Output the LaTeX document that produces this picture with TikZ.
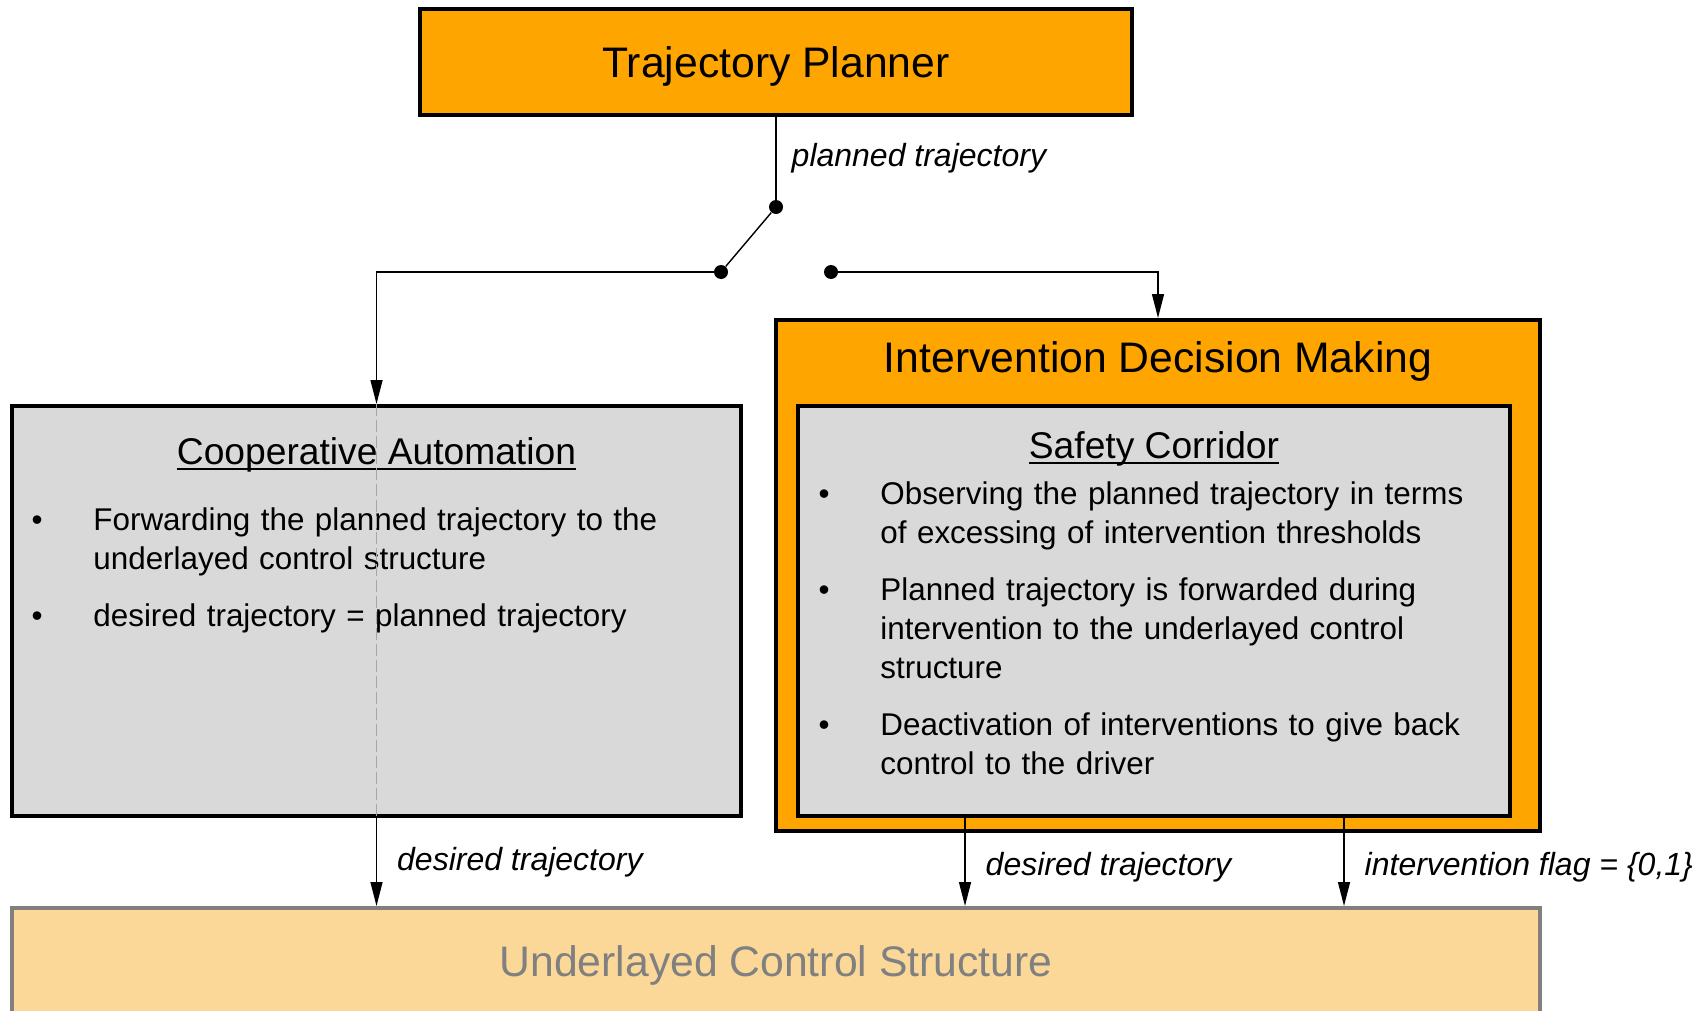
\documentclass[tikz,border=0pt]{standalone}
\usepackage{fontspec}
\setmainfont{Liberation Sans}
\usetikzlibrary{arrows.meta}

\newcommand{\titleline}[1]{\setbox0\hbox{#1}\rlap{\rule[-2.8pt]{\wd0}{0.7pt}}\box0}

\definecolor{plannerorange}{HTML}{FFA500}
\definecolor{boxgray}{HTML}{D9D9D9}
\definecolor{ucsfill}{HTML}{FBD898}
\definecolor{ucsgray}{HTML}{808080}
\definecolor{passgray}{HTML}{A6A6A6}

\begin{document}
\begin{tikzpicture}[x=0.5pt,y=-0.5pt,
    block/.style={draw=black, line width=2pt, minimum width=356pt, minimum height=53pt,
      text height=15.9pt, text depth=0pt, font=\fontsize{21.35}{25}\selectfont},
    graybox/.style={draw=black, line width=2pt, fill=boxgray, minimum height=205pt},
    title/.style={anchor=base, inner sep=0pt, font=\fontsize{21.35}{25}\selectfont},
    subtitle/.style={anchor=base, inner sep=0pt, font=\fontsize{18.6}{22}\selectfont},
    dotitem/.style={anchor=base, inner sep=0pt, font=\fontsize{15.7}{19.5}\selectfont},
    item/.style={anchor=base west, inner sep=0pt, text width=330pt, align=left,
      font=\fontsize{15.7}{19.5}\selectfont},
    lbl/.style={inner sep=0pt, font=\fontsize{16}{19}\selectfont\itshape},
    dot/.style={circle, fill=black, inner sep=0pt, minimum size=7pt},
    conn/.style={draw=black, line width=0.7pt},
    arr/.style={conn, -{Triangle[length=12pt,width=6pt]}},
    passline/.style={draw=passgray, line width=0.8pt, dash pattern=on 6pt off 2pt}]

  \useasboundingbox (0,0) rectangle (1702,1011);
  \clip (0,0) rectangle (1702,1011);

  % Draw the trajectory planner
  \node[block, fill=plannerorange] (tp) at (776,62) {Trajectory Planner};

  % Draw the switch
  \node[dot] (pivot) at (776,207) {};
  \node[dot] (cl) at (721,272) {};
  \node[dot] (cr) at (831,272) {};

  % Draw the cooperative automation block
  \node[graybox, minimum width=364.5pt] (ca) at (376.5,611) {};
  \node[subtitle] (catitle) at (376.5,464) {\titleline{Cooperative Automation}};
  \node[dotitem] (cab1) at (37,530) {\textbullet};
  \node[item] (cai1) at (93,530) {Forwarding the planned trajectory to the\\underlayed control structure};
  \node[dotitem] (cab2) at (37,626) {\textbullet};
  \node[item] (cai2) at (93,626) {desired trajectory = planned trajectory};

  % Draw the intervention decision making block
  \node[draw=black, line width=2pt, fill=plannerorange, minimum width=382pt, minimum height=255.5pt] (idm) at (1158,575.5) {};
  \node[title] (idmtitle) at (1158,372) {Intervention Decision Making};

  % Draw the safety corridor
  \node[graybox, minimum width=356pt] (sc) at (1154,611) {};
  \node[subtitle] (sctitle) at (1154,458) {\titleline{Safety Corridor}};
  \node[dotitem] (scb1) at (824,504) {\textbullet};
  \node[item] (sci1) at (880,504) {Observing the planned trajectory in terms\\of excessing of intervention thresholds};
  \node[dotitem] (scb2) at (824,600) {\textbullet};
  \node[item] (sci2) at (880,600) {Planned trajectory is forwarded during\\intervention to the underlayed control\\structure};
  \node[dotitem] (scb3) at (824,735) {\textbullet};
  \node[item] (sci3) at (880,735) {Deactivation of interventions to give back\\control to the driver};

  % Draw the underlayed control structure
  \node[block, draw=ucsgray, fill=ucsfill, text=ucsgray, minimum width=764pt] (ucs) at (776,961) {Underlayed Control Structure};

  % Draw the connections
  \draw[conn] (tp.south) -- node[lbl, midway, right=7.5pt] {planned trajectory} (pivot);
  \draw[conn] (pivot) -- (cl);
  \draw[arr] (cl) -| (ca.north);
  \draw[arr] (cr) -| (idm.north);

  % Draw the pass-through line
  \draw[passline] (ca.north) -- (ca.south);

  % Draw the outputs
  \coordinate (dtout) at ([xshift=-94.5pt]sc.south);
  \coordinate (flagout) at ([xshift=95pt]sc.south);
  \draw[arr] (ca.south) -- node[lbl, midway, right=10pt] {desired trajectory} (ca.south |- ucs.north);
  \draw[arr] (dtout) -- node[lbl, midway, right=10pt, yshift=-2.7pt] {desired trajectory} (dtout |- ucs.north);
  \draw[arr] (flagout) -- node[lbl, midway, right=10pt, yshift=-2.7pt] {intervention flag = \{0,1\}} (flagout |- ucs.north);
\end{tikzpicture}
\end{document}
